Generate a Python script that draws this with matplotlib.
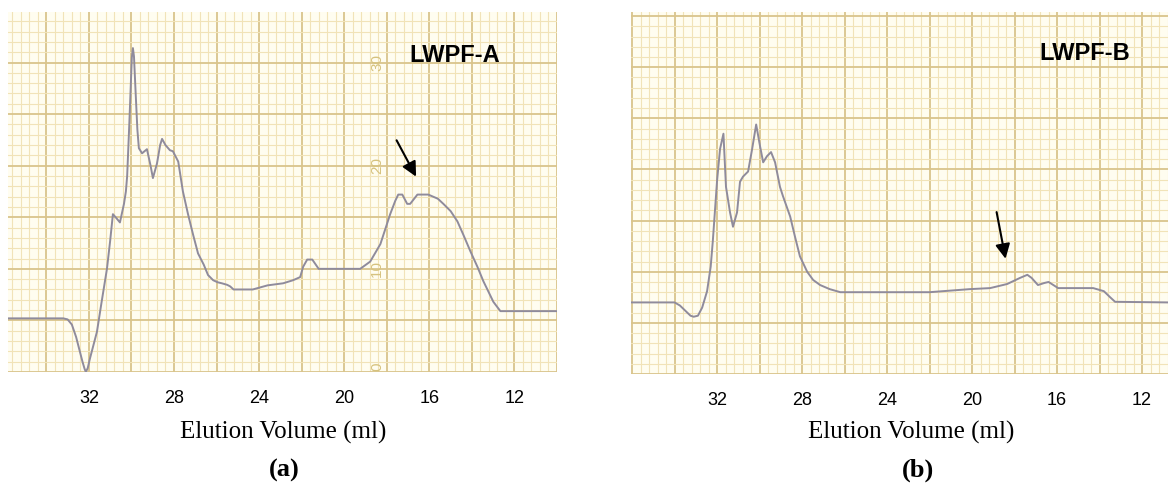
import numpy as np
import matplotlib.pyplot as plt
from matplotlib.ticker import MultipleLocator, FixedLocator, FixedFormatter

# 数据: 洗脱体积 (ml) 与检测信号 (图纸刻度)
vol_a = [35.8, 33.2, 33.0, 32.8, 32.6, 32.45, 32.3, 32.2, 32.14, 32.05, 31.95, 31.62,
         31.4, 31.15, 31.0, 30.87, 30.7, 30.54, 30.35, 30.26, 30.2, 30.1, 29.98,
         29.93, 29.88, 29.8, 29.72, 29.65, 29.5, 29.27, 29.1, 28.99, 28.8, 28.65,
         28.56, 28.4, 28.19, 28.05, 27.8, 27.58, 27.34, 27.1, 26.87, 26.6, 26.4,
         26.16, 25.95, 25.75, 25.5, 25.36, 25.2, 24.3, 23.6, 22.87, 22.4, 22.07,
         21.93, 21.74, 21.5, 21.2, 19.25, 18.78, 18.3, 17.84, 17.6, 17.46, 17.27,
         17.04, 16.9, 16.56, 16.05, 15.6, 15.34, 15.0, 14.68, 14.4, 14.07, 13.74,
         13.46, 12.99, 12.66, 10.0]
sig_a = [5.2, 5.2, 5.1, 4.6, 3.4, 2.2, 1.0, 0.3, 0.0, 0.4, 1.3, 3.9,
         6.8, 10.0, 12.7, 15.3, 14.9, 14.5, 16.3, 17.5, 19.0, 24.0, 30.5,
         31.4, 30.6, 27.0, 23.5, 21.7, 21.2, 21.6, 20.0, 18.8, 20.2, 22.0,
         22.6, 22.0, 21.5, 21.4, 20.4, 17.5, 15.3, 13.3, 11.5, 10.4, 9.4,
         8.9, 8.7, 8.6, 8.45, 8.3, 8.0, 8.0, 8.4, 8.6, 8.9, 9.2,
         10.2, 10.9, 10.9, 10.0, 10.0, 10.7, 12.4, 15.3, 16.6, 17.2, 17.2,
         16.3, 16.3, 17.2, 17.2, 16.8, 16.3, 15.6, 14.6, 13.3, 11.7, 10.2,
         8.8, 6.8, 5.9, 5.9]

vol_b = [36.05, 34.0, 33.75, 33.5, 33.25, 33.1, 32.9, 32.7, 32.47, 32.3, 32.2, 32.0,
         31.86, 31.7, 31.58, 31.39, 31.25, 31.06, 30.92, 30.78, 30.54, 30.35, 30.16,
         29.98, 29.83, 29.65, 29.46, 29.27, 29.04, 28.9, 28.56, 28.33, 28.1, 27.76,
         27.48, 27.15, 26.7, 26.2, 22.0, 20.1, 19.15, 18.35, 17.74, 17.4, 17.2,
         16.9, 16.6, 16.4, 16.1, 15.95, 14.3, 13.8, 13.5, 13.27, 10.78]
sig_b = [7.0, 7.0, 6.7, 6.2, 5.7, 5.6, 5.7, 6.5, 8.1, 10.5, 13.0, 18.9,
         22.0, 23.5, 18.3, 15.8, 14.4, 15.8, 18.8, 19.3, 19.8, 22.0, 24.4,
         22.3, 20.7, 21.3, 21.7, 20.7, 18.3, 17.4, 15.4, 13.4, 11.5, 10.0,
         9.2, 8.7, 8.3, 8.0, 8.0, 8.3, 8.4, 8.8, 9.4, 9.7, 9.4,
         8.7, 8.9, 9.0, 8.6, 8.4, 8.4, 8.1, 7.5, 7.06, 7.0]

tick_vals = [32, 28, 24, 20, 16, 12]
paper_vals = [0, 10, 20, 30]
names = ['LWPF-A', 'LWPF-B']
panel_tags = ['(a)', '(b)']

paper_bg = '#fffdf0'
minor_col = '#f1e3b8'
major_col = '#d9c48c'
trace_col = '#8f8b9c'

fig = plt.figure(figsize=(11.72, 4.93), dpi=100)
ax_a = fig.add_axes([8 / 1172, 1 - 372 / 493, 549 / 1172, 360 / 493])
ax_b = fig.add_axes([631 / 1172, 1 - 374 / 493, 537 / 1172, 362 / 493])

for ax, vol, sig, xl, yl in [(ax_a, vol_a, sig_a, (35.8, 10.0), (0, 34.9)),
                             (ax_b, vol_b, sig_b, (36.05, 10.78), (0, 35.4))]:
    ax.set_facecolor(paper_bg)
    ax.set_xlim(*xl)
    ax.set_ylim(*yl)
    majors = np.arange(10, 38, 2)
    ax.xaxis.set_major_locator(FixedLocator(majors))
    ax.xaxis.set_major_formatter(FixedFormatter([str(v) if v in tick_vals else '' for v in majors]))
    ax.xaxis.set_minor_locator(MultipleLocator(0.4))
    ax.yaxis.set_major_locator(MultipleLocator(5))
    ax.yaxis.set_minor_locator(MultipleLocator(1))
    ax.grid(which='minor', color=minor_col, lw=0.8)
    ax.grid(which='major', color=major_col, lw=1.3)
    ax.set_axisbelow(True)
    ax.tick_params(which='both', length=0, labelleft=False)
    ax.tick_params(axis='x', pad=13, labelsize=13)
    for lab in ax.get_xticklabels():
        lab.set_family('Liberation Sans')
    for s in ax.spines.values():
        s.set_visible(False)
    ax.plot(vol, sig, color=trace_col, lw=1.4, solid_joinstyle='round')

# 图纸上的刻度数字 (仅图 a)
for v in paper_vals:
    ax_a.text(18.45, max(v, 0.5), str(v), rotation=90, ha='center', va='center',
              fontsize=11, color='#d6c27e', family='Liberation Sans')

ax_a.text(0.814, 0.88, names[0], transform=ax_a.transAxes, ha='center', va='center',
          fontsize=17, fontweight='bold', family='Liberation Sans')
ax_b.text(0.845, 0.884, names[1], transform=ax_b.transAxes, ha='center', va='center',
          fontsize=17, fontweight='bold', family='Liberation Sans')

arrow = dict(arrowstyle='-|>', color='black', lw=1.5, mutation_scale=22)
ax_a.annotate('', xy=(16.56, 18.7), xytext=(17.6, 22.7), arrowprops=arrow)
ax_b.annotate('', xy=(18.4, 11.0), xytext=(18.87, 16.1), arrowprops=arrow)

for xc, xt, tag in [(283, 284, panel_tags[0]), (911, 918, panel_tags[1])]:
    fig.text(xc / 1172, 1 - 432 / 493, 'Elution Volume (ml)', ha='center', va='center',
             fontsize=18, family='Liberation Serif')
    fig.text(xt / 1172, 1 - 470 / 493, tag, ha='center', va='center',
             fontsize=19, fontweight='bold', family='Liberation Serif')

fig.savefig('out.png', dpi=100)
